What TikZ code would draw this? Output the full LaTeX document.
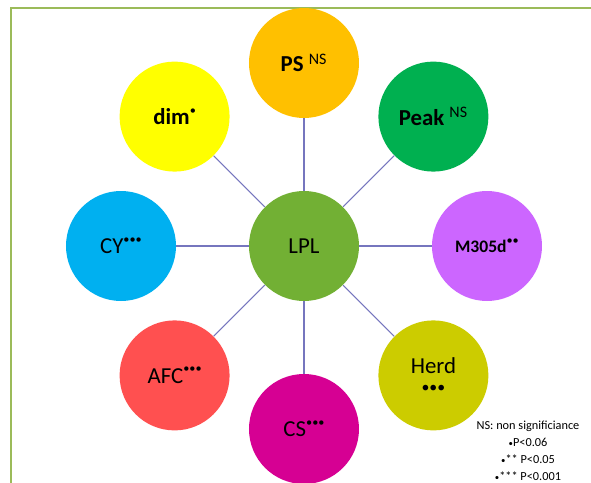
\documentclass[tikz,border=0pt]{standalone}
\usepackage{fontspec}
\setmainfont{Carlito}
\definecolor{frameGreen}{RGB}{155,187,89}
\definecolor{spokeBlue}{RGB}{118,118,190}
\definecolor{lplGreen}{RGB}{114,176,52}
\definecolor{psOrange}{RGB}{255,192,0}
\definecolor{dimYellow}{RGB}{255,255,0}
\definecolor{peakGreen}{RGB}{0,176,80}
\definecolor{mViolet}{RGB}{204,102,255}
\definecolor{herdOlive}{RGB}{204,204,0}
\definecolor{csMagenta}{RGB}{214,0,147}
\definecolor{afcRed}{RGB}{255,80,80}
\definecolor{cyBlue}{RGB}{0,176,240}
\newcommand{\sigmark}[1]{\raisebox{0.95ex}{\fontsize{7}{7}\selectfont\mdseries #1}}
\newcommand{\legdot}{{\fontsize{5}{5}\selectfont •}}

\begin{document}
\begin{tikzpicture}[every node/.style={font=\fontsize{13}{15}\selectfont},
    bubble/.style={circle, minimum size=2.2cm, inner sep=0pt, align=center},
    spoke/.style={draw=spokeBlue, line width=0.6pt}]
    \useasboundingbox (-6.08,-4.74) rectangle (5.74,4.92);
    % Frame
    \draw[frameGreen, line width=1.2pt] (-5.86,-4.74) -- (-5.86,4.76) -- (5.74,4.76);
    % Centre
    \node[bubble, fill=lplGreen] (lpl) at (0,0) {LPL};
    % Ring of traits
    \node[bubble, fill=psOrange, font=\fontsize{13}{15}\selectfont\bfseries] (ps) at (90:3.66) {PS \textsuperscript{\mdseries NS}};
    \node[bubble, fill=peakGreen, font=\fontsize{13}{15}\selectfont\bfseries] (peak) at (45:3.66) {Peak \textsuperscript{\mdseries NS}};
    \node[bubble, fill=mViolet, font=\fontsize{10}{12}\selectfont\bfseries] (m305d) at (0:3.66) {M305d\sigmark{••}};
    \node[bubble, fill=herdOlive] (herd) at (-45:3.66) {Herd\\[-4pt]{\fontsize{9}{9}\selectfont •••}};
    \node[bubble, fill=csMagenta] (cs) at (-90:3.66) {CS\sigmark{•••}};
    \node[bubble, fill=afcRed] (afc) at (-135:3.66) {AFC\sigmark{•••}};
    \node[bubble, fill=cyBlue] (cy) at (180:3.66) {CY\sigmark{•••}};
    \node[bubble, fill=dimYellow, font=\fontsize{13}{15}\selectfont\bfseries] (dim) at (135:3.66) {dim\sigmark{•}};
    % Spokes
    \draw[spoke] (lpl) -- (ps);
    \draw[spoke] (lpl) -- (peak);
    \draw[spoke] (lpl) -- (m305d);
    \draw[spoke] (lpl) -- (herd);
    \draw[spoke] (lpl) -- (cs);
    \draw[spoke] (lpl) -- (afc);
    \draw[spoke] (lpl) -- (cy);
    \draw[spoke] (lpl) -- (dim);
    % Legend
    \node[align=center, font=\fontsize{7}{9.6}\selectfont] (legend) at (4.48,-4.1) {NS: non significiance\\\legdot P<0.06\\\legdot** P<0.05\\\legdot*** P<0.001};
\end{tikzpicture}
\end{document}
